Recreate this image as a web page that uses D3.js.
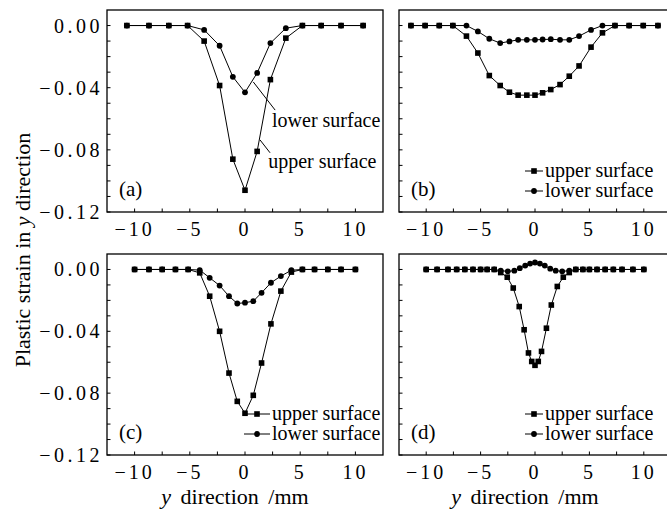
<!DOCTYPE html>
<html>
<head>
<meta charset="utf-8">
<script src="https://cdn.jsdelivr.net/npm/d3@7"></script>
<style>
  body { margin: 0; background: #fff; }
  svg text { font-family: "Liberation Serif", "Times New Roman", serif; fill: #000; }
</style>
</head>
<body>
<div id="chart"></div>
<script>
// values (strain vs y position, mm)
var xA = [-10.7, -8.7, -6.9, -5.2, -3.7, -2.3, -1.1, 0, 1.1, 2.3, 3.7, 5.2, 6.9, 8.7, 10.7];
var upperA = [0, 0, 0, 0, -0.010, -0.0386, -0.086, -0.106, -0.081, -0.0348, -0.0081, 0, 0, 0, 0];
var lowerA = [0, 0, 0, 0, -0.0028, -0.013, -0.033, -0.043, -0.0305, -0.0113, -0.0017, 0, 0, 0, 0];

var xB = [-11.4, -10.1, -8.8, -7.55, -6.3, -5.25, -4.2, -3.2, -2.35, -1.55, -0.75, 0,
          0.7, 1.45, 2.3, 3.15, 4.05, 5.15, 6.2, 7.35, 8.65, 9.95, 11.3];
var upperB = [0, 0, 0, 0, -0.0068, -0.0177, -0.0322, -0.0386, -0.0429, -0.0448, -0.0448, -0.0448,
              -0.0433, -0.0412, -0.038, -0.0326, -0.026, -0.0139, -0.0047, 0, 0, 0, 0];
var lowerB = [0, 0, 0, 0, 0, -0.0038, -0.0085, -0.0113, -0.0102, -0.0092, -0.0092, -0.0092,
              -0.0090, -0.0088, -0.0092, -0.0092, -0.0068, -0.0028, 0, 0, 0, 0, 0];

var xC = [-10, -8.7, -7.5, -6.3, -5.15, -4.1, -3.2, -2.3, -1.45, -0.7, 0,
          0.75, 1.5, 2.35, 3.25, 4.2, 5.2, 6.3, 7.5, 8.7, 10];
var upperC = [0, 0, 0, 0, 0, -0.0022, -0.0173, -0.040, -0.067, -0.0853, -0.093,
              -0.0814, -0.0605, -0.0352, -0.014, -0.0017, 0, 0, 0, 0, 0];
var lowerC = [0, 0, 0, 0, 0, -0.0004, -0.0054, -0.0104, -0.0173, -0.022, -0.0215,
              -0.0205, -0.0151, -0.0086, -0.0043, -0.0005, 0, 0, 0, 0, 0];

var xDupper = [-10, -9, -8, -7.2, -6.45, -5.7, -5, -4.4, -3.75,
               -3.15, -2.55, -2.0, -1.45, -1.0, -0.6, -0.3, 0, 0.3, 0.6, 1.05, 1.5, 2.05, 2.6, 3.15,
               3.75, 4.4, 5, 5.7, 6.45, 7.2, 8, 9, 10];
var upperD = [0, 0, 0, 0, 0, 0, 0, 0, 0,
              -0.002, -0.005, -0.012, -0.024, -0.039, -0.054, -0.0595, -0.062, -0.0595, -0.053, -0.038, -0.023, -0.011, -0.005, -0.002,
              0, 0, 0, 0, 0, 0, 0, 0, 0];
var xDlower = [-10, -9, -8, -7.2, -6.45, -5.7, -5, -4.4, -3.75,
               -3.15, -2.5, -1.9, -1.4, -0.9, -0.45, 0, 0.45, 0.9, 1.4, 1.9, 2.5, 3.15,
               3.75, 4.4, 5, 5.7, 6.45, 7.2, 8, 9, 10];
var lowerD = [0, 0, 0, 0, 0, 0, 0, 0, 0,
              -0.0008, -0.0012, -0.0008, 0.0008, 0.0025, 0.0038, 0.0045, 0.0038, 0.0025, 0.0005, -0.0008, -0.0012, -0.0008,
              0, 0, 0, 0, 0, 0, 0, 0, 0];

var seriesNames = ["upper surface", "lower surface"];
var panelLabels = ["(a)", "(b)", "(c)", "(d)"];
var xTickLabels = [-10, -5, 0, 5, 10];
var yTickLabels = [0, -0.04, -0.08, -0.12];
var yTitle = "Plastic strain in ";
var xTitle = " direction /mm";

var width = 667, height = 517;

var svg = d3.select("#chart").append("svg")
    .attr("width", width)
    .attr("height", height);

var panels = [
  {label: panelLabels[0], x0: 107, x1: 383, y0: 10, y1: 212, yAxis: true,
   upper: {x: xA, y: upperA}, lower: {x: xA, y: lowerA}, legend: null,
   notes: [
     {text: seriesNames[1], from: [0.75, -0.0363], to: [2.73, -0.0544], at: [2.45, -0.0653]},
     {text: seriesNames[0], from: [1.36, -0.0736], to: [2.27, -0.0819], at: [2.1, -0.0915]}
   ]},
  {label: panelLabels[1], x0: 399, x1: 671, y0: 10, y1: 212, yAxis: false,
   upper: {x: xB, y: upperB}, lower: {x: xB, y: lowerB}, legend: {x: 525, w: 18}, notes: []},
  {label: panelLabels[2], x0: 107, x1: 383, y0: 254, y1: 455, yAxis: true,
   upper: {x: xC, y: upperC}, lower: {x: xC, y: lowerC}, legend: {x: 244, w: 26}, notes: []},
  {label: panelLabels[3], x0: 399, x1: 671, y0: 254, y1: 455, yAxis: false,
   upper: {x: xDupper, y: upperD}, lower: {x: xDlower, y: lowerD}, legend: {x: 525, w: 18}, notes: []}
];

function drawMarker(g, kind, cx, cy) {
  if (kind == "square") {
    g.append("rect")
      .attr("x", cx - 2.8).attr("y", cy - 2.8)
      .attr("width", 5.6).attr("height", 5.6)
      .attr("fill", "#000");
  } else {
    g.append("circle")
      .attr("cx", cx).attr("cy", cy).attr("r", 2.9)
      .attr("fill", "#000");
  }
}

panels.forEach(function (p) {
  var x = d3.scaleLinear().domain([-12.5, 12.5]).range([p.x0, p.x1]);
  var y = d3.scaleLinear().domain([-0.12, 0.01]).range([p.y1, p.y0]);
  var g = svg.append("g");

  // inward ticks
  var yt = d3.range(0, 13).map(i => -i / 100);
  g.selectAll(".yt").data(yt).enter().append("line")
    .attr("x1", p.x0).attr("x2", p.x0 + 3.5)
    .attr("y1", d => y(d)).attr("y2", d => y(d))
    .attr("stroke", "#000").attr("stroke-width", 1);
  var xt = d3.range(-10, 10.01, 2.5);
  g.selectAll(".xt").data(xt).enter().append("line")
    .attr("x1", d => x(d)).attr("x2", d => x(d))
    .attr("y1", p.y1).attr("y2", p.y1 - 3.5)
    .attr("stroke", "#000").attr("stroke-width", 1);

  g.append("rect")
    .attr("x", p.x0).attr("y", p.y0)
    .attr("width", p.x1 - p.x0).attr("height", p.y1 - p.y0)
    .attr("fill", "none").attr("stroke", "#000").attr("stroke-width", 1.3);

  // tick labels
  g.selectAll(".xl").data(xTickLabels).enter().append("text")
    .attr("x", d => x(d)).attr("y", p.y1 + 24)
    .attr("text-anchor", "middle")
    .attr("font-size", 20).attr("letter-spacing", "3px")
    .text(d => d3.format("d")(d));
  if (p.yAxis) {
    g.selectAll(".yl").data(yTickLabels).enter().append("text")
      .attr("x", p.x0 - 4).attr("y", d => y(d) + 7)
      .attr("text-anchor", "end")
      .attr("font-size", 20).attr("letter-spacing", "3.5px")
      .text(d => d3.format(".2f")(d));
  }

  var line = d3.line().x(d => x(d[0])).y(d => y(d[1]));
  [["upper", "square"], ["lower", "circle"]].forEach(function (s) {
    var pts = d3.zip(p[s[0]].x, p[s[0]].y);
    g.append("path").datum(pts)
      .attr("d", line)
      .attr("fill", "none").attr("stroke", "#000").attr("stroke-width", 1);
    pts.forEach(d => drawMarker(g, s[1], x(d[0]), y(d[1])));
  });

  g.append("text")
    .attr("x", p.x0 + 12).attr("y", p.y1 - 16)
    .attr("font-size", 21)
    .text(p.label);

  if (p.legend) {
    [["square", seriesNames[0]], ["circle", seriesNames[1]]].forEach(function (s, i) {
      var ly = p.y1 - 41 + i * 20;
      g.append("line")
        .attr("x1", p.legend.x).attr("x2", p.legend.x + p.legend.w)
        .attr("y1", ly).attr("y2", ly)
        .attr("stroke", "#000").attr("stroke-width", 1);
      drawMarker(g, s[0], p.legend.x + p.legend.w / 2, ly);
      g.append("text")
        .attr("x", p.legend.x + p.legend.w + 2).attr("y", ly + 6)
        .attr("font-size", 20)
        .text(s[1]);
    });
  }

  p.notes.forEach(function (n) {
    g.append("line")
      .attr("x1", x(n.from[0])).attr("y1", y(n.from[1]))
      .attr("x2", x(n.to[0])).attr("y2", y(n.to[1]))
      .attr("stroke", "#000").attr("stroke-width", 1);
    g.append("text")
      .attr("x", x(n.at[0])).attr("y", y(n.at[1]))
      .attr("font-size", 20)
      .text(n.text);
  });

  // x title below each column
  if (p.y0 > 100) {
    var t = svg.append("text")
      .attr("x", x(0) - 10).attr("y", 504)
      .attr("text-anchor", "middle")
      .attr("font-size", 22).attr("word-spacing", "4px");
    t.append("tspan").attr("font-style", "italic").text("y");
    t.append("tspan").text(xTitle);
  }
});

var yt = svg.append("text")
    .attr("transform", "translate(30,250) rotate(-90)")
    .attr("text-anchor", "middle")
    .attr("font-size", 22);
yt.append("tspan").text(yTitle);
yt.append("tspan").attr("font-style", "italic").text("y");
yt.append("tspan").text(" direction");
</script>
</body>
</html>
